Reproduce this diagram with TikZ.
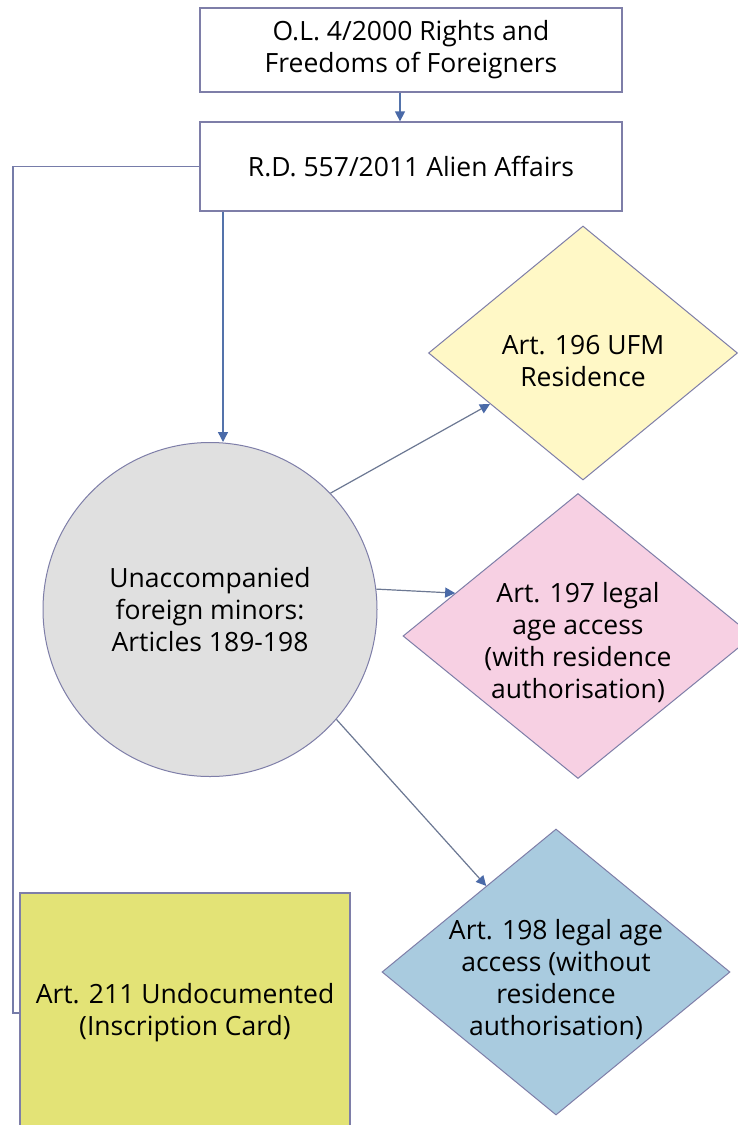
\documentclass[tikz,border=0pt]{standalone}
\usepackage{fontspec}
\setmainfont{Open Sans}
\usetikzlibrary{shapes.geometric,calc,arrows.meta}
\definecolor{bord}{HTML}{7E7EA8}
\definecolor{conn}{HTML}{5473AB}
\definecolor{diag}{HTML}{6C7893}
\definecolor{tipc}{HTML}{4A6AA8}
\definecolor{yel}{HTML}{FFF8C6}
\definecolor{pink}{HTML}{F7D0E3}
\definecolor{blu}{HTML}{A9CBDF}
\definecolor{gry}{HTML}{E0E0E0}
\definecolor{olive}{HTML}{E3E376}
\begin{document}
\begin{tikzpicture}[x=1pt,y=-1pt,
  box/.style={draw=bord, line width=1.3pt, inner sep=0pt},
  dia/.style={diamond, draw=bord, line width=1pt, inner sep=0pt},
  txt/.style={align=center, font=\fontsize{26.5}{32}\selectfont, text=black},
  arr/.style={-{Triangle[length=10pt,width=10pt,color=tipc]}, line width=1.4pt, draw=conn},
  darr/.style={-{Triangle[length=10pt,width=10pt,color=tipc]}, line width=1.2pt, draw=diag}]
\useasboundingbox (0,0) rectangle (738,1125);
\clip (0,0) rectangle (738,1125);
\fill[white] (0,0) rectangle (738,1125);

\node[box, fill=white, txt, minimum width=422, minimum height=84] (b1) at (411,50)
  {O.L. 4/2000 Rights and\\Freedoms of Foreigners};
\node[box, fill=white, txt, minimum width=422, minimum height=89] (b2) at (411,166.5)
  {R.D. 557/2011 Alien Affairs};
\node[circle, draw=bord, line width=1pt, fill=gry, txt, minimum size=334, inner sep=0pt] (c) at (210,609.5)
  {Unaccompanied\\foreign minors:\\Articles 189-198};

\node[dia, fill=yel, minimum width=309, minimum height=254] (d1) at (583,353) {};
\node[txt] (t1) at (583,361) {Art. 196 UFM\\Residence};
\node[dia, fill=pink, minimum width=350, minimum height=285] (d2) at (578,636) {};
\node[txt] (t2) at (578,643) {Art. 197 legal\\age access\\ (with residence\\authorisation)};
\node[dia, fill=blu, minimum width=348, minimum height=286] (d3) at (556,972) {};
\node[txt] (t3) at (556,980) {Art. 198 legal age\\access (without\\residence\\authorisation)};

\node[box, fill=olive, line width=1.5pt, minimum width=330, minimum height=239] (b4) at (185,1012.5) {};
\node[txt] (t4) at (185,1012.5) {Art. 211 Undocumented\\(Inscription Card)};

\coordinate (xa) at (400,0);
\coordinate (xb) at (223,0);
\coordinate (bend) at (13,1013);

\draw[arr] (b1.south -| xa) -- (b2.north -| xa);
\draw[arr] (b2.south -| xb) -- (c.north -| xb);
\draw[draw=bord!80!conn, line width=1.5pt] (b2.west) -| (bend) -- (bend -| b4.west);

\draw[darr] (c.44.7) -- ($(d1.west)!0.4!(d1.south)$);
\draw[darr] (c.7) -- ($(d2.west)!0.3!(d2.north)$);
\draw[darr] (c.-41.8) -- ($(d3.west)!0.6!(d3.north)$);
\end{tikzpicture}
\end{document}
